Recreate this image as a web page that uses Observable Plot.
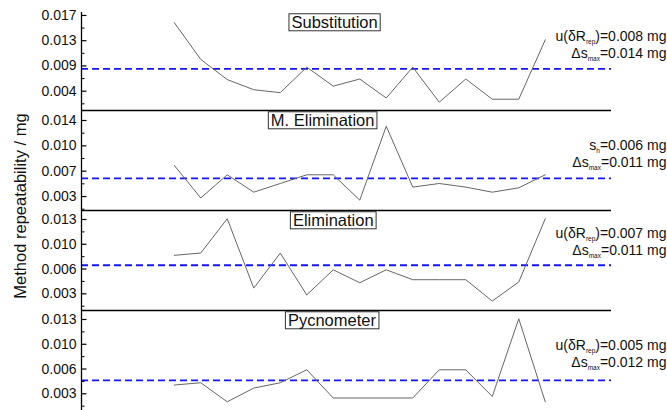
<!DOCTYPE html>
<html>
<head>
<meta charset="utf-8">
<script src="https://cdn.jsdelivr.net/npm/d3@7"></script>
<script src="https://cdn.jsdelivr.net/npm/@observablehq/plot@0.6"></script>
<style>
  body { margin: 0; background: #fff; }
  #chart { position: relative; width: 667px; height: 410px; overflow: hidden;
           font-family: "Liberation Sans", Arial, sans-serif; }
  #chart svg { display: block; }
  #ylabel { position: absolute; left: 20px; top: 206px; white-space: nowrap;
            transform: translate(-50%, -50%) rotate(-90deg); font-size: 16.5px; color: #111; }
</style>
</head>
<body>
<div id="chart"><div id="ylabel">Method repeatability / mg</div></div>
<script>
// Measurement number (1..15) for every method
const measurement = [1, 2, 3, 4, 5, 6, 7, 8, 9, 10, 11, 12, 13, 14, 15];

// Repeatability of each measurement, mg
const substitution = [0.0158, 0.0096, 0.0062, 0.0045, 0.0040, 0.0083, 0.0051, 0.0063, 0.0031, 0.0083, 0.0024, 0.0063, 0.0029, 0.0029, 0.0129];
const mElimination = [0.0078, 0.0033, 0.0065, 0.0041, 0.0053, 0.0065, 0.0065, 0.0030, 0.0132, 0.0048, 0.0053, 0.0048, 0.0041, 0.0047, 0.0065];
const elimination  = [0.0083, 0.0086, 0.0131, 0.0040, 0.0086, 0.0031, 0.0064, 0.0047, 0.0064, 0.0051, 0.0051, 0.0051, 0.0023, 0.0048, 0.0131];
const pycnometer   = [0.0044, 0.0047, 0.0022, 0.0040, 0.0047, 0.0064, 0.0027, 0.0027, 0.0027, 0.0027, 0.0064, 0.0064, 0.0029, 0.0131, 0.0022];

// Method titles, repeatability estimates and maximum spread, mg
const methodNames = ["Substitution", "M. Elimination", "Elimination", "Pycnometer"];
const repeatability = [0.008, 0.006, 0.007, 0.005];
const spreadMax = [0.014, 0.011, 0.011, 0.012];
const repeatabilitySymbol = [["u(δR", "rep", ")"], ["s", "h", ""], ["u(δR", "rep", ")"], ["u(δR", "rep", ")"]];

// Y tick values and their labels for each panel
const ticksSub = [0.00425, 0.0085, 0.01275, 0.017];
const labelsSub = ["0.004", "0.009", "0.013", "0.017"];
const ticksMElim = [0.0035, 0.007, 0.0105, 0.014];
const labelsMElim = ["0.003", "0.007", "0.010", "0.014"];
const ticksElim = [0.00325, 0.0065, 0.00975, 0.013];
const labelsElim = ["0.003", "0.006", "0.010", "0.013"];
const ticksPyc = [0.00325, 0.0065, 0.00975, 0.013];
const labelsPyc = ["0.003", "0.006", "0.010", "0.013"];

const series = [substitution, mElimination, elimination, pycnometer];
const tickSets = [ticksSub, ticksMElim, ticksElim, ticksPyc];
const tickLabelSets = [labelsSub, labelsMElim, labelsElim, labelsPyc];

// Panel geometry
const W = 667, ML = 81, MR = 56;
const xDomain = [-2.5, 17.5];
const layout = [
  {height: 110, marginTop: 12, yDomain: [0.0010, 0.0175],  titleX: 7.05, statDy: [24, 41]},
  {height: 100, marginTop: 0,  yDomain: [0.00157, 0.01538], titleX: 6.6,  statDy: [35, 52]},
  {height: 100, marginTop: 0,  yDomain: [0.00106, 0.01418], titleX: 7.0,  statDy: [23, 40]},
  {height: 100, marginTop: 0,  yDomain: [0.00106, 0.01418], titleX: 6.95, statDy: [35, 52]}
];

// inward tick marks drawn as a symbol: a short horizontal stroke to the right
const tickMark = len => ({draw(context) { context.moveTo(0, 0); context.lineTo(len, 0); }});

const fmt = d3.format(".3f");
const chart = document.getElementById("chart");

series.forEach((values, k) => {
  const L = layout[k];
  const rows = measurement.map((m, i) => ({m, v: values[i]}));
  const ticks = tickSets[k];
  const step = ticks[1] - ticks[0];
  const minor = ticks.map(t => t - step / 2);
  const sym = repeatabilitySymbol[k];
  const statParts = [
    [sym[0], sym[1], `${sym[2]}=${fmt(repeatability[k])} mg`],
    ["Δs", "max", `=${fmt(spreadMax[k])} mg`]
  ];

  const marks = [
    // mean repeatability
    Plot.ruleY([repeatability[k]], {stroke: "#1515ff", strokeWidth: 1.8, strokeDasharray: "7,4"}),
    // measurements
    Plot.line(rows, {x: "m", y: "v", stroke: "#666", strokeWidth: 1}),
    // left axis
    Plot.ruleX([xDomain[0]], {stroke: "#000", strokeWidth: 1.3}),
    Plot.dot(ticks, {x: xDomain[0], y: d => d, symbol: tickMark(5), stroke: "#000", strokeWidth: 1.2, fill: "none"}),
    Plot.dot(minor, {x: xDomain[0], y: d => d, symbol: tickMark(3), stroke: "#000", strokeWidth: 1, fill: "none"}),
    Plot.text(ticks, {y: d => d, text: (d, i) => tickLabelSets[k][i], frameAnchor: "left",
                      textAnchor: "end", dx: -5, fontSize: 14, fill: "#111"}),
    // method title
    Plot.text([methodNames[k]], {x: L.titleX, text: d => d, frameAnchor: "top", lineAnchor: "middle",
                                 dy: 10.5, fontSize: 16.5, fill: "#111"}),
    // statistics on the right
    ...statParts.map((p, j) => Plot.text([p.join("")], {text: d => d, frameAnchor: "top-right",
                      textAnchor: "end", lineAnchor: "middle", dx: 55, dy: L.statDy[j],
                      fontSize: 14, fill: "#111"}))
  ];
  // separator between stacked panels
  if (k > 0) marks.push(Plot.ruleY([L.yDomain[1]], {stroke: "#000", strokeWidth: 1.3}));

  const svg = Plot.plot({
    width: W, height: L.height,
    marginLeft: ML, marginRight: MR, marginTop: L.marginTop, marginBottom: 0,
    x: {domain: xDomain, axis: null},
    y: {domain: L.yDomain, axis: null},
    style: {fontFamily: '"Liberation Sans", Arial, sans-serif', fontSize: "14px",
            background: "white", overflow: "visible"},
    marks
  });
  chart.appendChild(svg);

  const texts = Array.from(svg.querySelectorAll("text"));

  // subscripts in the statistics labels
  statParts.forEach(p => {
    texts.filter(el => el.textContent === p.join("")).forEach(el => {
      const t = d3.select(el);
      t.text(null);
      t.append("tspan").text(p[0]);
      t.append("tspan").attr("font-size", 6.5).attr("dy", 3).text(p[1]);
      t.append("tspan").attr("dy", -3).text(p[2]);
    });
  });

  // frame around the method title
  texts.filter(el => el.textContent === methodNames[k]).forEach(el => {
    const b = el.getBBox();
    d3.select(el.parentNode).insert("rect", () => el)
      .attr("x", b.x - 2.5).attr("y", b.y + 0.5)
      .attr("width", b.width + 5).attr("height", b.height - 1)
      .attr("transform", el.getAttribute("transform"))
      .attr("fill", "white").attr("stroke", "#333").attr("stroke-width", 1);
  });
});
</script>
</body>
</html>
